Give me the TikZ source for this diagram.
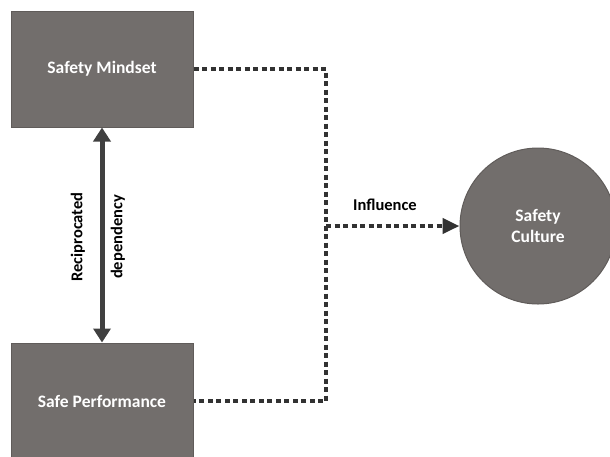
\documentclass[tikz,border=0pt]{standalone}
\usepackage{fontspec}
\setmainfont{Carlito}
\usetikzlibrary{arrows.meta}
\definecolor{boxgray}{RGB}{114,110,108}
\definecolor{boxedge}{RGB}{96,92,90}
\definecolor{dotcol}{RGB}{50,50,50}
\definecolor{arrcol}{RGB}{64,64,64}
\begin{document}
\begin{tikzpicture}[x=1pt,y=-1pt,
  box/.style={draw=boxedge, line width=1pt, fill=boxgray, text=white, font=\fontsize{17.5}{20}\selectfont\bfseries, minimum width=182pt, minimum height=116pt, inner sep=0pt},
  disc/.style={circle, draw=boxedge, line width=1pt, fill=boxgray, text=white, font=\fontsize{17.5}{21}\selectfont\bfseries, minimum size=156pt, align=center, inner sep=0pt},
  dotline/.style={draw=dotcol, line width=4.5pt, dash pattern=on 5pt off 3.5pt},
  dblarrow/.style={draw=arrcol, line width=5pt, {Triangle[length=14pt,width=17pt]}-{Triangle[length=14pt,width=17pt]}},
  lbl/.style={text=black, font=\fontsize{16.5}{19}\selectfont\bfseries, inner sep=0pt}
]
\useasboundingbox (0,0) rectangle (610,456);
\clip (0,0) rectangle (610,456);
\node[box] (mind) at (102,69) {Safety Mindset};
\node[box] (perf) at (102,401) {Safe Performance};
\node[disc] (cult) at (538,226) {Safety\\Culture};
\coordinate (tr) at (326,69);
\coordinate (br) at (326,401);
\coordinate (mid) at (326,226);
\draw[dotline] (mind.east) -- (tr) -- (br) -- (perf.east);
\draw[dotline, -{Triangle[length=17pt,width=15pt,fill=dotcol]}] (mid) -- (cult.west);
\draw[dblarrow] (mind.south) -- (perf.north);
\node[lbl, rotate=90] (rec) at (78,237) {Reciprocated};
\node[lbl, rotate=90] (dep) at (118,237) {dependency};
\node[lbl] (inf) at (385,205) {Influence};
\end{tikzpicture}
\end{document}
